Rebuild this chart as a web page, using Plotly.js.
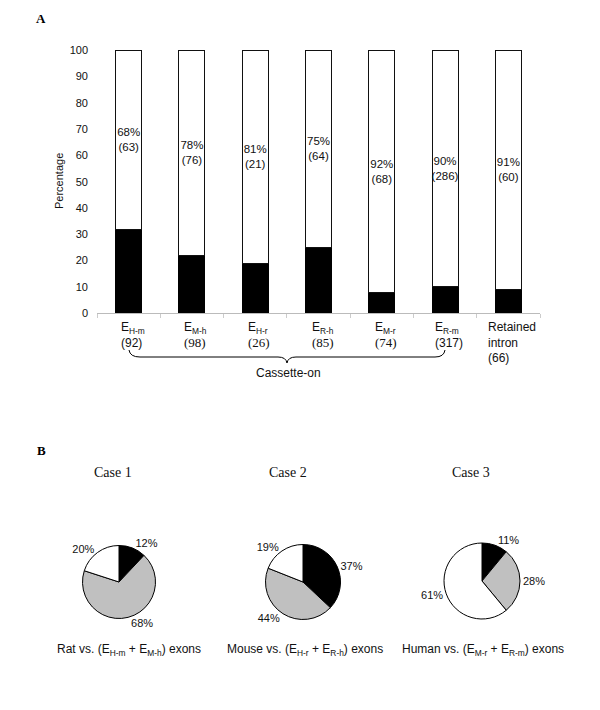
<!DOCTYPE html>
<html>
<head>
<meta charset="utf-8">
<script src="https://cdn.plot.ly/plotly-3.0.1.min.js"></script>
<style>
  html, body { margin: 0; padding: 0; background: #fff; }
  #chart { width: 600px; height: 710px; }
</style>
</head>
<body>
<div id="chart"></div>
<script>
// ---- Data (panel A) ----
const categories = ['E_H-m', 'E_M-h', 'E_H-r', 'E_R-h', 'E_M-r', 'E_R-m', 'Retained intron'];
const tickNames = ['E<sub>H-m</sub>', 'E<sub>M-h</sub>', 'E<sub>H-r</sub>', 'E<sub>R-h</sub>', 'E<sub>M-r</sub>', 'E<sub>R-m</sub>', 'Retained<br>intron'];
const totals = [92, 98, 26, 85, 74, 317, 66];
const blackPct = [32, 22, 19, 25, 8, 10, 9];
const whitePct = [68, 78, 81, 75, 92, 90, 91];
const whiteCounts = [63, 76, 21, 64, 68, 286, 60];
const yTicks = [0, 10, 20, 30, 40, 50, 60, 70, 80, 90, 100];

// ---- Data (panel B) ----
const sliceNames = ['Slice 1', 'Slice 2', 'Slice 3'];
const case1 = [12, 68, 20];
const case2 = [37, 44, 19];
const case3 = [11, 28, 61];
const caseTitles = ['Case 1', 'Case 2', 'Case 3'];
const caseCaptions = [
  'Rat vs. (E<sub>H-m</sub> + E<sub>M-h</sub>) exons',
  'Mouse vs. (E<sub>H-r</sub> + E<sub>R-h</sub>) exons',
  'Human vs. (E<sub>M-r</sub> + E<sub>R-m</sub>) exons'
];

// ---- Styling helpers ----
const W = 600, H = 710;
const px = x => x / W;
const py = y => 1 - y / H;
const SANS = 'Liberation Sans, Arial, sans-serif';
const SERIF = 'Liberation Serif, Times New Roman, serif';
const serifTotals = [false, true, true, true, true, false, false];
const sliceColors = ['#000000', '#c0c0c0', '#ffffff'];

const traces = [
  {
    type: 'bar', x: categories, y: blackPct, name: 'black',
    marker: { color: '#000', line: { color: '#000', width: 1 } },
    hoverinfo: 'skip', xaxis: 'x', yaxis: 'y'
  },
  {
    type: 'bar', x: categories, y: whitePct, name: 'white',
    marker: { color: '#fff', line: { color: '#111', width: 1 } },
    text: whitePct.map((p, i) => p + '%<br>(' + whiteCounts[i] + ')'),
    textposition: 'inside', insidetextanchor: 'middle', textangle: 0,
    constraintext: 'none',
    textfont: { family: SANS, size: 11.5, color: '#111' },
    hoverinfo: 'skip', xaxis: 'x', yaxis: 'y'
  }
];

const pieCenters = [[119, 582, 36.5], [303, 582, 37.5], [482, 581, 38]];
[case1, case2, case3].forEach((vals, i) => {
  const [cx, cy, r] = pieCenters[i];
  traces.push({
    type: 'pie', labels: sliceNames, values: vals, sort: false,
    direction: 'clockwise', rotation: 0,
    marker: { colors: sliceColors, line: { color: '#000', width: 1 } },
    textinfo: 'percent', textposition: 'outside',
    textfont: { family: SANS, size: 11, color: '#111' },
    domain: { x: [px(cx - r), px(cx + r)], y: [py(cy + r), py(cy - r)] },
    showlegend: false, hoverinfo: 'skip'
  });
});

const annotations = [];
// x tick labels (left-aligned multi-line, as in original)
categories.forEach((c, i) => {
  const tot = serifTotals[i]
    ? '<span style="font-family:Liberation Serif;font-size:13px">(' + totals[i] + ')</span>'
    : '(' + totals[i] + ')';
  annotations.push({
    x: c, y: 0, xref: 'x', yref: 'y', xanchor: 'center', yanchor: 'top',
    xshift: 4, yshift: -5, align: 'left', showarrow: false,
    text: tickNames[i] + '<br>' + tot,
    font: { family: SANS, size: 12, color: '#111' }
  });
});
function txt(text, x, y, font, extra) {
  annotations.push(Object.assign({
    text, x: px(x), y: py(y), xref: 'paper', yref: 'paper',
    xanchor: 'center', yanchor: 'middle', showarrow: false, font
  }, extra || {}));
}
txt('<b>A</b>', 41, 19, { family: SERIF, size: 13, color: '#000' });
txt('<b>B</b>', 41, 450, { family: SERIF, size: 13, color: '#000' });
txt('Percentage', 59, 181, { family: SANS, size: 11, color: '#111' }, { textangle: -90 });
txt('Cassette-on', 288, 373, { family: SANS, size: 12, color: '#111' });
const titleX = [113, 288, 471];
const captionX = [129, 305, 483];
caseTitles.forEach((t, i) => txt(t, titleX[i], 472, { family: SERIF, size: 14, color: '#111' }));
caseCaptions.forEach((t, i) => txt(t, captionX[i], 650, { family: SANS, size: 12, color: '#111' }));

// curly brace under the cassette-on categories
const P = (x, y) => px(x).toFixed(5) + ',' + py(y).toFixed(5);
const bracePath = 'M' + P(129, 350) + ' Q' + P(130, 357) + ' ' + P(140, 357) +
  ' L' + P(278, 357) + ' Q' + P(286, 357) + ' ' + P(287, 363) +
  ' Q' + P(288, 357) + ' ' + P(296, 357) + ' L' + P(435, 357) +
  ' Q' + P(444, 357) + ' ' + P(445, 350);

const layout = {
  width: W, height: H,
  margin: { l: 0, r: 0, t: 0, b: 0, pad: 0 },
  paper_bgcolor: '#fff', plot_bgcolor: '#fff',
  font: { family: SANS, size: 11, color: '#111' },
  showlegend: false,
  barmode: 'stack', bargap: 0.59,
  xaxis: {
    domain: [px(97), px(540)], anchor: 'y',
    type: 'category', categoryorder: 'array', categoryarray: categories,
    showticklabels: false, showline: true, linecolor: '#bbb', linewidth: 1,
    ticks: 'outside', tickson: 'boundaries', ticklen: 4, tickcolor: '#ccc',
    showgrid: false, zeroline: false
  },
  yaxis: {
    domain: [py(313.3), py(50)], anchor: 'x',
    range: [0, 100], tickvals: yTicks, ticks: '', ticklabelstandoff: 8,
    tickfont: { family: SANS, size: 11, color: '#111' },
    showline: false, showgrid: false, zeroline: false
  },
  annotations,
  shapes: [{ type: 'path', xref: 'paper', yref: 'paper', path: bracePath,
             line: { color: '#000', width: 1 } }]
};

Plotly.newPlot('chart', traces, layout, { staticPlot: true, displayModeBar: false });
</script>
</body>
</html>
